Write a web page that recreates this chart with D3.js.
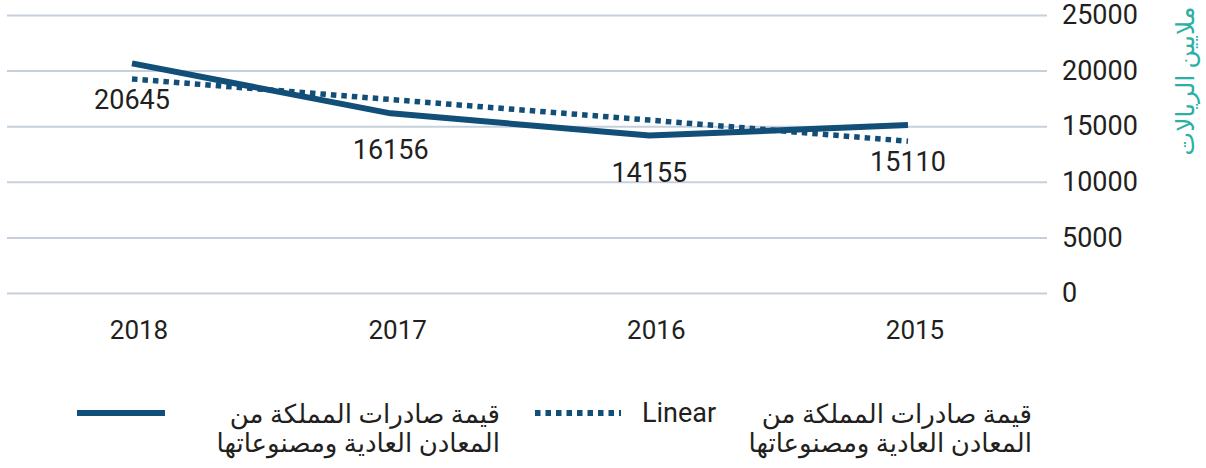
<!DOCTYPE html>
<html lang="ar">
<head>
    <meta charset="UTF-8">
    <title>قيمة صادرات المملكة من المعادن العادية ومصنوعاتها</title>
    <style>
        body{
            margin: 0;
            overflow: hidden;
            background: #fff;
        }
        text{
            font-family: Roboto, "DejaVu Sans", sans-serif;
            fill: #231f20;
        }
    </style>
</head>
<body>
    <script src="https://d3js.org/d3.v7.min.js"></script>
    <script>
        // chart data
        const years = ['2018', '2017', '2016', '2015'];
        const values = [20645, 16156, 14155, 15110];
        // linear trend line (dotted)
        const trendValues = [19250, 17400, 15550, 13650];
        const yTicks = [0, 5000, 10000, 15000, 20000, 25000];
        const yTitle = 'ملايين الريالات';
        const seriesName = ['قيمة صادرات المملكة من', 'المعادن العادية ومصنوعاتها'];

        const width = 1206, height = 468;
        const blue = '#114e78';

        const svg = d3.select('body').append('svg')
            .attr('width', width)
            .attr('height', height);

        const x = d3.scalePoint().domain(years).range([132, 908]);
        const y = d3.scaleLinear().domain([0, 25000]).range([293, 15]);

        // gridlines + right tick labels
        const yAxis = svg.append('g')
            .attr('transform', 'translate(7,0)')
            .call(d3.axisRight(y).tickValues(yTicks).tickSize(1040).tickPadding(15).tickFormat(d3.format('d')));
        yAxis.select('.domain').remove();
        yAxis.selectAll('line').attr('stroke', '#c6d0dd').attr('stroke-width', 2);
        yAxis.selectAll('text').style('font-size', '27px').attr('fill', '#231f20');

        // year labels
        svg.selectAll('.year')
            .data(years)
            .enter().append('text')
            .attr('class', 'year')
            .attr('x', d => x(d) + 7)
            .attr('y', 339)
            .attr('text-anchor', 'middle')
            .style('font-size', '26px')
            .text(d => d);

        // trend line
        const pts = years.map((d, i) => ({ year: d, v: values[i], t: trendValues[i] }));
        svg.append('path')
            .datum(pts)
            .attr('fill', 'none')
            .attr('stroke', blue)
            .attr('stroke-width', 5.5)
            .attr('stroke-dasharray', '5.5 5')
            .attr('d', d3.line().x(d => x(d.year)).y(d => y(d.t)));

        // main line
        svg.append('path')
            .datum(pts)
            .attr('fill', 'none')
            .attr('stroke', blue)
            .attr('stroke-width', 6)
            .attr('stroke-linejoin', 'round')
            .attr('d', d3.line().x(d => x(d.year)).y(d => y(d.v)));

        // data labels
        svg.selectAll('.lbl')
            .data(pts)
            .enter().append('text')
            .attr('class', 'lbl')
            .attr('x', d => x(d.year))
            .attr('y', d => y(d.v) + 46)
            .attr('text-anchor', 'middle')
            .style('font-size', '27px')
            .text(d => d.v);

        // y title (rotated)
        svg.append('text')
            .attr('transform', 'translate(1194,81) rotate(-90)')
            .attr('text-anchor', 'middle')
            .style('font-size', '25px')
            .style('fill', '#2bb0a5')
            .text(yTitle);

        // legend
        const legend = svg.append('g');
        legend.append('line')
            .attr('x1', 77).attr('x2', 165).attr('y1', 413).attr('y2', 413)
            .attr('stroke', blue).attr('stroke-width', 6);
        legend.append('line')
            .attr('x1', 535).attr('x2', 621).attr('y1', 413).attr('y2', 413)
            .attr('stroke', blue).attr('stroke-width', 6).attr('stroke-dasharray', '5.5 5');
        legend.append('text')
            .attr('x', 642).attr('y', 422)
            .style('font-size', '27px')
            .text('Linear');
        [500, 1032].forEach(rx => {
            seriesName.forEach((s, i) => {
                legend.append('text')
                    .attr('x', rx).attr('y', 423 + i * 29)
                    .attr('text-anchor', 'end')
                    .style('font-size', '26px')
                    .text(s);
            });
        });
    </script>
</body>
</html>
